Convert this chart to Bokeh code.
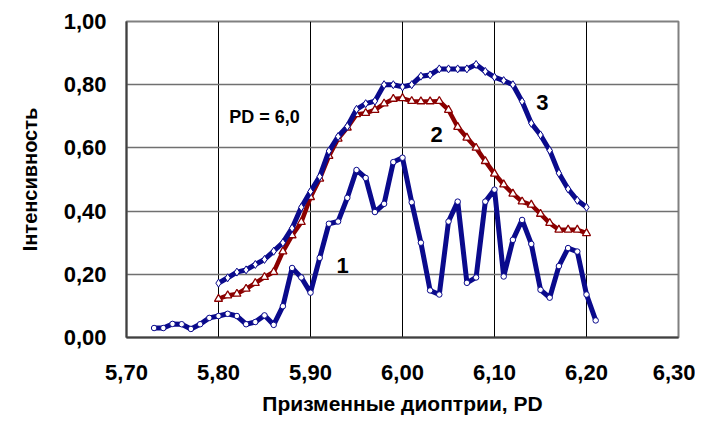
from bokeh.plotting import figure
from bokeh.models import FixedTicker, Label, Range1d
from bokeh.embed import file_html
from bokeh.resources import INLINE

# ---------------- data ----------------
x1 = [5.73, 5.74, 5.75, 5.76, 5.77, 5.78, 5.79, 5.80, 5.81, 5.82, 5.83, 5.84, 5.85,
      5.86, 5.87, 5.88, 5.89, 5.90, 5.91, 5.92, 5.93, 5.94, 5.95, 5.96, 5.97, 5.98,
      5.99, 6.00, 6.01, 6.02, 6.03, 6.04, 6.05, 6.06, 6.07, 6.08, 6.09, 6.10, 6.11,
      6.12, 6.13, 6.14, 6.15, 6.16, 6.17, 6.18, 6.19, 6.20, 6.21]
y1 = [0.030, 0.030, 0.043, 0.042, 0.027, 0.042, 0.062, 0.068, 0.075, 0.068, 0.042,
      0.049, 0.070, 0.040, 0.099, 0.220, 0.190, 0.142, 0.252, 0.360, 0.367, 0.442,
      0.530, 0.505, 0.397, 0.423, 0.555, 0.569, 0.428, 0.300, 0.149, 0.136, 0.367,
      0.430, 0.173, 0.190, 0.430, 0.468, 0.193, 0.309, 0.372, 0.296, 0.151, 0.126,
      0.226, 0.283, 0.272, 0.136, 0.054]

x23 = [5.80, 5.81, 5.82, 5.83, 5.84, 5.85, 5.86, 5.87, 5.88, 5.89, 5.90, 5.91, 5.92,
       5.93, 5.94, 5.95, 5.96, 5.97, 5.98, 5.99, 6.00, 6.01, 6.02, 6.03, 6.04, 6.05,
       6.06, 6.07, 6.08, 6.09, 6.10, 6.11, 6.12, 6.13, 6.14, 6.15, 6.16, 6.17, 6.18,
       6.19, 6.20]
y2 = [0.122, 0.133, 0.138, 0.154, 0.172, 0.191, 0.207, 0.272, 0.323, 0.365, 0.444,
      0.502, 0.574, 0.629, 0.664, 0.706, 0.710, 0.720, 0.740, 0.755, 0.757, 0.748,
      0.747, 0.747, 0.748, 0.720, 0.666, 0.632, 0.600, 0.558, 0.518, 0.484, 0.455,
      0.430, 0.420, 0.391, 0.362, 0.341, 0.341, 0.341, 0.330]
y3 = [0.172, 0.189, 0.207, 0.214, 0.231, 0.247, 0.273, 0.300, 0.346, 0.412, 0.462,
      0.509, 0.590, 0.636, 0.668, 0.722, 0.740, 0.748, 0.800, 0.800, 0.793, 0.800,
      0.827, 0.831, 0.850, 0.850, 0.850, 0.850, 0.864, 0.842, 0.824, 0.813, 0.800,
      0.747, 0.678, 0.641, 0.592, 0.520, 0.470, 0.434, 0.412]

x_ticks = [5.70, 5.80, 5.90, 6.00, 6.10, 6.20, 6.30]
x_tick_labels = ["5,70", "5,80", "5,90", "6,00", "6,10", "6,20", "6,30"]
y_ticks = [0.0, 0.2, 0.4, 0.6, 0.8, 1.0]
y_tick_labels = ["0,00", "0,20", "0,40", "0,60", "0,80", "1,00"]

x_title = "Призменные диоптрии, PD"
y_title = "Інтенсивность"
note = "PD = 6,0"

FONT = "Liberation Sans"
NAVY = "#0a0a8c"
RED = "#8b0000"

p = figure(width=695, height=428, output_backend="svg", toolbar_location=None,
           x_range=Range1d(5.70, 6.30), y_range=Range1d(0.0, 1.0),
           min_border_left=126, min_border_right=17, min_border_top=21,
           min_border_bottom=91)
p.background_fill_color = "white"
p.border_fill_color = "white"
p.outline_line_color = "#808080"
p.outline_line_width = 2

# axes
for ax in (p.xaxis[0], p.yaxis[0]):
    ax.axis_line_color = "#404040"
    ax.axis_line_width = 2
    ax.major_tick_line_color = None
    ax.minor_tick_line_color = None
    ax.major_tick_out = 0
    ax.major_tick_in = 0
    ax.major_label_text_font = FONT
    ax.major_label_text_font_style = "bold"
    ax.major_label_text_font_size = "22px"
    ax.major_label_text_color = "black"
    ax.axis_label_text_font = FONT
    ax.axis_label_text_font_style = "bold"
    ax.axis_label_text_color = "black"

p.xaxis.axis_label_text_font_size = "21px"
p.yaxis.axis_label_text_font_size = "20px"
p.xaxis.ticker = FixedTicker(ticks=x_ticks)
p.yaxis.ticker = FixedTicker(ticks=y_ticks)
p.xaxis.major_label_overrides = dict(zip(x_ticks, x_tick_labels))
p.yaxis.major_label_overrides = dict(zip(y_ticks, y_tick_labels))
p.xaxis.major_label_standoff = 27
p.yaxis.major_label_standoff = 20
p.xaxis.axis_label = x_title
p.yaxis.axis_label = y_title
p.xaxis.axis_label_standoff = 9
p.yaxis.axis_label_standoff = 20

p.xgrid.ticker = FixedTicker(ticks=x_ticks[1:-1])
p.ygrid.ticker = FixedTicker(ticks=y_ticks[1:-1])
p.xgrid.grid_line_color = "black"
p.xgrid.grid_line_width = 1
p.ygrid.grid_line_color = "#707070"
p.ygrid.grid_line_width = 1.5

# series 1
p.line(x1, y1, line_color=NAVY, line_width=5, line_join="round")
p.scatter(x1, y1, marker="circle", size=5.5, fill_color="white",
          line_color=NAVY, line_width=1)
# series 2
p.line(x23, y2, line_color=RED, line_width=4.5, line_join="round")
p.scatter(x23, y2, marker="triangle", size=8, fill_color="white",
          line_color=RED, line_width=1.3)
# series 3
p.line(x23, y3, line_color=NAVY, line_width=5, line_join="round")
p.scatter(x23, y3, marker="diamond", size=8, fill_color="white",
          line_color=NAVY, line_width=1)

def add_label(x, y, text, size):
    p.add_layout(Label(x=x, y=y, text=text, text_font=FONT,
                       text_font_style="bold", text_font_size=size,
                       text_color="black", text_align="center",
                       text_baseline="middle"))

add_label(5.85, 0.697, note, "18px")
add_label(5.935, 0.228, "1", "22px")
add_label(6.037, 0.641, "2", "22px")
add_label(6.152, 0.743, "3", "22px")

open("out.html", "w").write(file_html(p, INLINE))
